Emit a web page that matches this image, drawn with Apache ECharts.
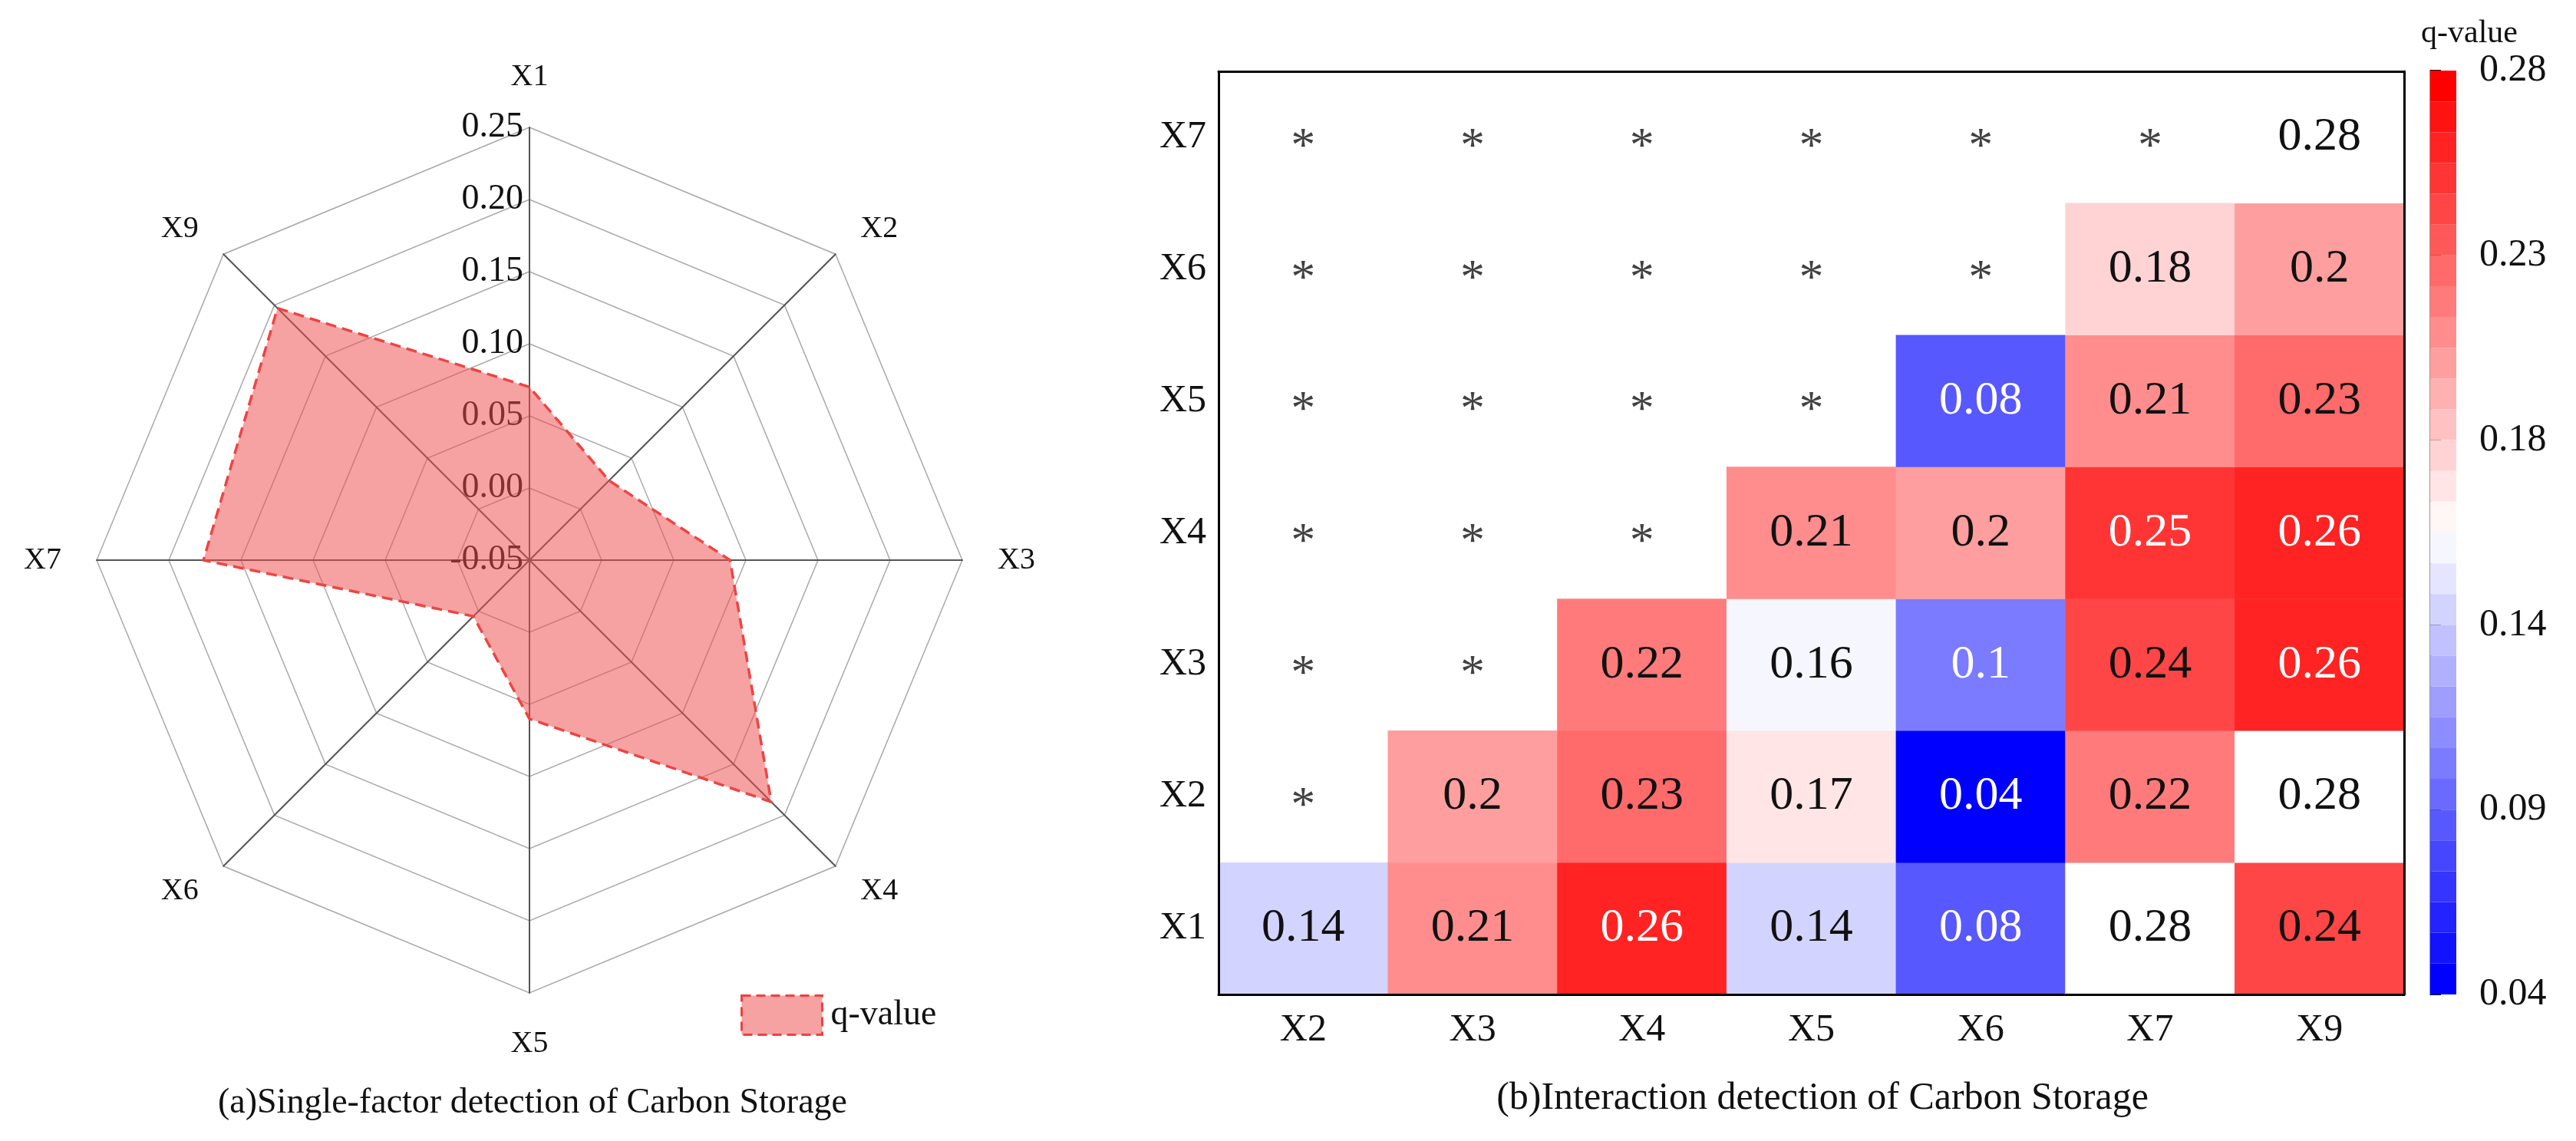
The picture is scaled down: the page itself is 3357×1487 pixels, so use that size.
<!DOCTYPE html>
<html>
<head>
<meta charset="utf-8">
<script src="https://cdn.jsdelivr.net/npm/echarts@6/dist/echarts.min.js"></script>
<style>
html,body{margin:0;padding:0;background:#fff;}
#chart{width:3357px;height:1487px;}
</style>
</head>
<body>
<div id="chart"></div>
<script>
// ---- (a) single-factor detection (radar) ----
const radarCategories = ['X1', 'X2', 'X3', 'X4', 'X5', 'X6', 'X7', 'X9'];
const radarValues = [0.07, 0.028, 0.089, 0.187, 0.06, 0.005, 0.176, 0.197];
const radarMin = -0.05;
const radarMax = 0.25;

// ---- (b) interaction detection (heatmap) ----
const hmXCategories = ['X2', 'X3', 'X4', 'X5', 'X6', 'X7', 'X9'];
const hmYCategories = ['X1', 'X2', 'X3', 'X4', 'X5', 'X6', 'X7'];
// rows follow hmYCategories (bottom to top); null = '*'
const hmRowX1 = [0.14, 0.21, 0.26, 0.14, 0.08, 0.28, 0.24];
const hmRowX2 = [null, 0.2, 0.23, 0.17, 0.04, 0.22, 0.28];
const hmRowX3 = [null, null, 0.22, 0.158, 0.1, 0.24, 0.26];
const hmRowX4 = [null, null, null, 0.21, 0.2, 0.25, 0.26];
const hmRowX5 = [null, null, null, null, 0.08, 0.21, 0.23];
const hmRowX6 = [null, null, null, null, null, 0.18, 0.2];
const hmRowX7 = [null, null, null, null, null, null, 0.28];
const colorMin = 0.04;
const colorMax = 0.278;
const colorBands = 30;
const cbTickLabels = ['0.04', '0.09', '0.14', '0.18', '0.23', '0.28'];

const FONT = 'Liberation Serif';
const hmRows = [hmRowX1, hmRowX2, hmRowX3, hmRowX4, hmRowX5, hmRowX6, hmRowX7];

// radar order: ECharts goes counter-clockwise, reference goes clockwise
const order = [0, 7, 6, 5, 4, 3, 2, 1];
const indicators = order.map((i, k) => {
  const o = { name: radarCategories[i], min: radarMin, max: radarMax };
  if (k !== 0) o.axisLabel = { show: false };
  return o;
});
const radarData = order.map(i => radarValues[i]);

const cellData = [];
const starData = [];
hmRows.forEach((row, yi) => {
  row.forEach((v, xi) => {
    if (v === null) {
      starData.push([xi, yi]);
    } else {
      const light = (v >= 0.245 && v <= colorMax) || v <= 0.105;
      cellData.push({ value: [xi, yi, v], label: { color: light ? '#ffffff' : '#111111' } });
    }
  });
});

const chart = echarts.init(document.getElementById('chart'));
chart.setOption({
  backgroundColor: '#ffffff',
  animation: false,
  title: [
    { text: '(a)Single-factor detection of Carbon Storage', left: 689, top: 1410, textAlign: 'center',
      textStyle: { fontFamily: FONT, fontSize: 46, fontWeight: 'normal', color: '#111' } },
    { text: '(b)Interaction detection of Carbon Storage', left: 2370, top: 1402, textAlign: 'center',
      textStyle: { fontFamily: FONT, fontSize: 50, fontWeight: 'normal', color: '#111' } },
    { text: 'q-value', left: 3213, top: 18, textAlign: 'center',
      textStyle: { fontFamily: FONT, fontSize: 42, fontWeight: 'normal', color: '#111' } }
  ],
  legend: {
    data: ['q-value'], left: 960, top: 1291, itemWidth: 105, itemHeight: 51, icon: 'rect',
    itemStyle: { color: 'rgba(238,76,76,0.52)', borderColor: '#f04040', borderWidth: 3, borderType: [12, 7] },
    textStyle: { fontFamily: FONT, fontSize: 46, color: '#111', padding: [0, 0, 0, 6] },
    selectedMode: false
  },
  radar: {
    center: [690, 730], radius: 564, startAngle: 90, shape: 'polygon', splitNumber: 6,
    indicator: indicators,
    axisName: { color: '#111', fontFamily: FONT, fontSize: 40 },
    nameGap: 46,
    axisLine: { lineStyle: { color: '#555', width: 2 } },
    splitLine: { lineStyle: { color: '#aaa', width: 1.5 } },
    splitArea: { show: false },
    axisTick: { show: false },
    axisLabel: { show: true, fontFamily: FONT, fontSize: 46, color: '#111', margin: 8,
      formatter: v => (Math.abs(v) < 1e-9 ? 0 : Number(v)).toFixed(2) }
  },
  grid: [
    { left: 1588, top: 93, width: 1545, height: 1203, show: false },
    { left: 3167, top: 92, width: 34, height: 1204, show: false }
  ],
  xAxis: [
    { gridIndex: 0, type: 'category', data: hmXCategories, position: 'bottom', z: 5,
      axisLine: { lineStyle: { color: '#000', width: 3 } },
      axisTick: { inside: true, length: 14, alignWithLabel: true, lineStyle: { color: '#111', width: 2 } },
      axisLabel: { fontFamily: FONT, fontSize: 50, color: '#111', margin: 22 },
      splitLine: { show: false } },
    { gridIndex: 0, type: 'category', data: hmXCategories, position: 'top', z: 5,
      axisLine: { lineStyle: { color: '#000', width: 3 } },
      axisTick: { show: false }, axisLabel: { show: false } },
    { gridIndex: 1, type: 'value', min: 0, max: 1, show: false }
  ],
  yAxis: [
    { gridIndex: 0, type: 'category', data: hmYCategories, position: 'left', z: 5,
      axisLine: { lineStyle: { color: '#000', width: 3 } },
      axisTick: { inside: true, length: 14, alignWithLabel: true, lineStyle: { color: '#111', width: 2 } },
      axisLabel: { fontFamily: FONT, fontSize: 50, color: '#111', margin: 16 },
      splitLine: { show: false } },
    { gridIndex: 0, type: 'category', data: hmYCategories, position: 'right', z: 5,
      axisLine: { lineStyle: { color: '#000', width: 3 } },
      axisTick: { show: false }, axisLabel: { show: false } },
    { gridIndex: 1, type: 'value', min: 0, max: cbTickLabels.length - 1, interval: 1, position: 'right',
      axisLine: { show: true, lineStyle: { color: '#999', width: 3 } },
      axisTick: { show: true, inside: false, length: 14, lineStyle: { color: '#111', width: 2 } },
      axisLabel: { fontFamily: FONT, fontSize: 50, color: '#111', margin: 30,
        formatter: v => cbTickLabels[Math.round(v)] },
      splitLine: { show: false } }
  ],
  visualMap: {
    type: 'piecewise', seriesIndex: 1, min: colorMin, max: colorMax, splitNumber: colorBands,
    inRange: { color: ['#0000ff', '#ffffff', '#ff0000'] }, outOfRange: { color: '#ffffff' },
    orient: 'vertical', left: 3167, top: 92, itemWidth: 34, itemHeight: 1204 / colorBands, itemGap: 0,
    itemSymbol: 'rect', showLabel: false, selectedMode: false, padding: 0, text: null
  },
  series: [
    { type: 'radar', name: 'q-value', symbol: 'none', z: 3,
      lineStyle: { color: '#f04040', width: 3.5, type: [14, 8] },
      areaStyle: { color: '#ee4c4c', opacity: 0.52 },
      itemStyle: { color: 'rgba(238,76,76,0.52)' },
      data: [{ name: 'q-value', value: radarData }] },
    { type: 'heatmap', xAxisIndex: 0, yAxisIndex: 0, data: cellData,
      label: { show: true, fontFamily: FONT, fontSize: 62,
        formatter: p => String(Number(p.value[2].toFixed(2))) },
      emphasis: { disabled: true } },
    { type: 'scatter', xAxisIndex: 0, yAxisIndex: 0, data: starData, symbol: 'circle', symbolSize: 1,
      itemStyle: { color: 'rgba(0,0,0,0)' },
      label: { show: true, position: 'inside', formatter: '*', fontFamily: FONT, fontSize: 64, color: '#111', offset: [0, 14] } }
  ]
});
</script>
</body>
</html>
